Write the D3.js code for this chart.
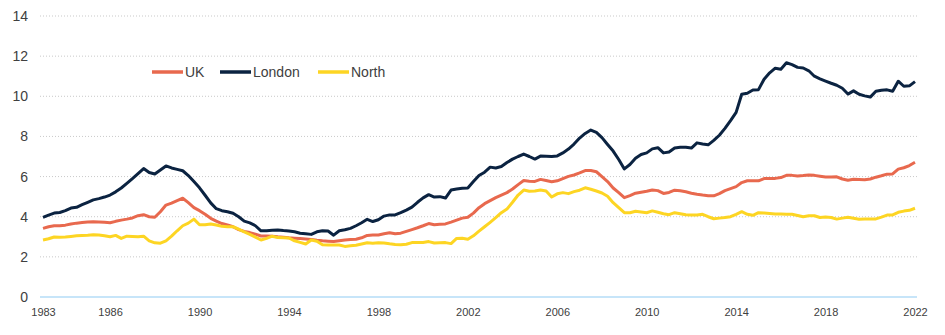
<!DOCTYPE html>
<html>
<head>
<meta charset="utf-8">
<script src="https://cdn.jsdelivr.net/npm/d3@7"></script>
<style>
  body { margin: 0; background: #fff; }
  text { font-family: "Liberation Sans", Arial, sans-serif; }
</style>
</head>
<body>
<div id="chart"></div>
<script>
// Quarterly series, 1983 Q1 to 2022 Q1
const startYear = 1983;

const uk = [
  3.42, 3.50, 3.55, 3.55, 3.58, 3.64, 3.68, 3.71, 3.74, 3.75, 3.74, 3.72, 3.70, 3.77, 3.83, 3.88,
  3.94, 4.05, 4.10, 4.00, 3.97, 4.25, 4.58, 4.68, 4.80, 4.92, 4.70, 4.45, 4.30, 4.12, 3.92, 3.78,
  3.66, 3.59, 3.50, 3.36, 3.27, 3.21, 3.13, 3.04, 3.04, 3.03, 3.00, 2.98, 2.95, 2.93, 2.91, 2.89,
  2.87, 2.83, 2.80, 2.78, 2.76, 2.80, 2.84, 2.86, 2.88, 2.95, 3.07, 3.09, 3.09, 3.15, 3.20, 3.15,
  3.18, 3.27, 3.36, 3.45, 3.55, 3.66, 3.60, 3.62, 3.64, 3.73, 3.83, 3.93, 3.97, 4.18, 4.45, 4.65,
  4.80, 4.95, 5.08, 5.20, 5.38, 5.60, 5.80, 5.77, 5.76, 5.86, 5.80, 5.74, 5.79, 5.90, 6.01, 6.08,
  6.18, 6.30, 6.30, 6.24, 6.00, 5.75, 5.43, 5.20, 4.95, 5.05, 5.17, 5.22, 5.27, 5.33, 5.30, 5.16,
  5.21, 5.32, 5.29, 5.24, 5.17, 5.12, 5.08, 5.05, 5.04, 5.15, 5.30, 5.40, 5.50, 5.70, 5.79, 5.79,
  5.79, 5.90, 5.91, 5.91, 5.95, 6.06, 6.06, 6.03, 6.05, 6.08, 6.06, 6.02, 5.98, 5.98, 5.99, 5.88,
  5.82, 5.87, 5.86, 5.84, 5.88, 5.97, 6.04, 6.12, 6.13, 6.37, 6.44, 6.55, 6.71
];

const london = [
  3.97, 4.08, 4.18, 4.21, 4.30, 4.43, 4.47, 4.60, 4.72, 4.84, 4.90, 4.98, 5.08, 5.24, 5.43, 5.66,
  5.90, 6.15, 6.40, 6.20, 6.13, 6.33, 6.53, 6.43, 6.36, 6.29, 6.05, 5.75, 5.44, 5.07, 4.69, 4.40,
  4.30, 4.25, 4.17, 4.00, 3.78, 3.69, 3.55, 3.30, 3.30, 3.32, 3.34, 3.31, 3.29, 3.25, 3.18, 3.15,
  3.12, 3.25, 3.30, 3.29, 3.08, 3.30, 3.35, 3.42, 3.55, 3.70, 3.87, 3.76, 3.85, 4.03, 4.09, 4.09,
  4.20, 4.33, 4.48, 4.72, 4.94, 5.10, 4.98, 5.00, 4.93, 5.33, 5.38, 5.42, 5.43, 5.75, 6.05, 6.22,
  6.47, 6.43, 6.50, 6.70, 6.87, 7.00, 7.12, 7.00, 6.87, 7.02, 7.01, 7.00, 7.03, 7.18, 7.37, 7.62,
  7.92, 8.15, 8.32, 8.20, 7.94, 7.60, 7.27, 6.85, 6.38, 6.60, 6.91, 7.10, 7.18, 7.38, 7.44, 7.18,
  7.22, 7.42, 7.46, 7.46, 7.42, 7.68, 7.62, 7.58, 7.80, 8.06, 8.40, 8.79, 9.20, 10.10, 10.15, 10.31,
  10.33, 10.85, 11.17, 11.40, 11.35, 11.67, 11.58, 11.44, 11.41, 11.27, 11.00, 10.87, 10.76, 10.65, 10.55, 10.40,
  10.11, 10.27, 10.10, 10.02, 9.96, 10.25, 10.30, 10.32, 10.25, 10.75, 10.50, 10.52, 10.73
];

const north = [
  2.84, 2.90, 2.99, 2.98, 2.99, 3.02, 3.05, 3.07, 3.08, 3.10, 3.09, 3.05, 3.00, 3.07, 2.92, 3.03,
  3.02, 3.00, 3.03, 2.80, 2.70, 2.68, 2.80, 3.03, 3.30, 3.55, 3.68, 3.88, 3.60, 3.60, 3.64, 3.59,
  3.52, 3.50, 3.50, 3.38, 3.24, 3.12, 2.98, 2.84, 2.92, 3.03, 2.96, 2.95, 2.94, 2.80, 2.72, 2.64,
  2.84, 2.78, 2.60, 2.59, 2.59, 2.59, 2.52, 2.55, 2.58, 2.64, 2.70, 2.68, 2.70, 2.69, 2.65, 2.62,
  2.60, 2.63, 2.71, 2.72, 2.72, 2.76, 2.69, 2.70, 2.71, 2.66, 2.92, 2.93, 2.88, 3.05, 3.28, 3.50,
  3.72, 3.95, 4.20, 4.38, 4.72, 5.08, 5.33, 5.27, 5.28, 5.33, 5.28, 4.98, 5.14, 5.20, 5.15, 5.25,
  5.32, 5.44, 5.37, 5.28, 5.18, 5.02, 4.70, 4.45, 4.20, 4.20, 4.27, 4.24, 4.20, 4.29, 4.22, 4.15,
  4.10, 4.20, 4.15, 4.10, 4.09, 4.09, 4.12, 4.00, 3.90, 3.93, 3.96, 4.00, 4.12, 4.25, 4.12, 4.07,
  4.20, 4.18, 4.16, 4.14, 4.13, 4.12, 4.12, 4.06, 4.00, 4.05, 4.05, 3.96, 3.99, 3.96, 3.88, 3.93,
  3.97, 3.92, 3.87, 3.88, 3.88, 3.89, 3.98, 4.08, 4.09, 4.22, 4.28, 4.32, 4.42
];

const seriesNames = ["UK", "London", "North"];
const seriesColors = ["#E8694E", "#0B2341", "#FDD523"];
const yTicks = [0, 2, 4, 6, 8, 10, 12, 14];
const xTickLabels = ["1983", "1986", "1990", "1994", "1998", "2002", "2006", "2010", "2014", "2018", "2022"];

const W = 945, H = 335;
const plot = { left: 40, right: 917, top: 16, bottom: 297 };

const svg = d3.select("#chart")
  .append("svg")
    .attr("width", W)
    .attr("height", H);

// Scales
const x = d3.scaleLinear().domain([1983, 2022]).range([43, 915]);
const y = d3.scaleLinear().domain([0, 14]).range([plot.bottom, plot.top]);

// Dotted gridlines
svg.append("g")
  .selectAll("line")
  .data(yTicks.filter(d => d > 0))
  .enter().append("line")
    .attr("x1", plot.left)
    .attr("x2", plot.right)
    .attr("y1", d => y(d))
    .attr("y2", d => y(d))
    .attr("stroke", "#c9c9c9")
    .attr("stroke-width", 1)
    .attr("stroke-dasharray", "1,2");

// Y axis labels
const yAxis = svg.append("g")
  .attr("transform", `translate(${plot.left - 12},0)`)
  .call(d3.axisLeft(y).tickValues(yTicks).tickSize(0).tickPadding(0));
yAxis.select(".domain").remove();
yAxis.selectAll("text")
  .attr("fill", "#404040")
  .style("font-size", "14px");

// X axis
const xAxis = svg.append("g")
  .attr("transform", `translate(0,${plot.bottom})`)
  .call(d3.axisBottom(x)
    .tickValues(xTickLabels.map(Number))
    .tickFormat(d => String(d))
    .tickSize(0)
    .tickPadding(11));
xAxis.select(".domain").remove();
xAxis.selectAll("text")
  .attr("fill", "#404040")
  .style("font-size", "11px");

svg.append("line")
  .attr("x1", plot.left)
  .attr("x2", plot.right)
  .attr("y1", y(0))
  .attr("y2", y(0))
  .attr("stroke", "#b4dcf7")
  .attr("stroke-width", 1.5);

// Lines
const allSeries = [uk, london, north];
const line = d3.line()
  .x((d, i) => x(startYear + i / 4))
  .y(d => y(d));

svg.append("g")
  .selectAll("path")
  .data(allSeries)
  .enter().append("path")
    .attr("d", d => line(d))
    .attr("fill", "none")
    .attr("stroke", (d, i) => seriesColors[i])
    .attr("stroke-width", 3)
    .attr("stroke-linejoin", "round");

// Legend
const legendX = [152, 220, 318];
const legend = svg.append("g").attr("transform", `translate(0,${72})`);
seriesNames.forEach((name, i) => {
  legend.append("line")
    .attr("x1", legendX[i])
    .attr("x2", legendX[i] + 31)
    .attr("stroke", seriesColors[i])
    .attr("stroke-width", 3.5);
  legend.append("text")
    .attr("x", legendX[i] + 33)
    .attr("y", 5)
    .attr("fill", "#404040")
    .style("font-size", "14px")
    .text(name);
});
</script>
</body>
</html>
